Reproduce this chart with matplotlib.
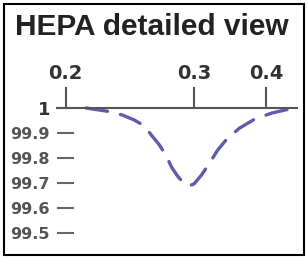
import numpy as np
import matplotlib
matplotlib.use("Agg")
import matplotlib.pyplot as plt
from matplotlib.patches import Rectangle

# values
particle_size = [0.2159, 0.2261, 0.2363, 0.2441, 0.2535, 0.2614, 0.2668, 0.2731,
                 0.2786, 0.2825, 0.2872, 0.2919, 0.2958, 0.3001, 0.3107, 0.3219,
                 0.3331, 0.3470, 0.3637, 0.3847, 0.4084, 0.4265, 0.4432]
efficiency = [100.0, 99.992, 99.984, 99.972, 99.952, 99.928, 99.892, 99.852,
              99.808, 99.764, 99.728, 99.700, 99.688, 99.696, 99.732, 99.780,
              99.832, 99.880, 99.920, 99.956, 99.980, 99.992, 100.0]
x_ticks = [0.2, 0.3, 0.4]
x_tick_labels = ["0.2", "0.3", "0.4"]
y_ticks = [99.5, 99.6, 99.7, 99.8, 99.9, 100.0]
y_tick_labels = ["99.5", "99.6", "99.7", "99.8", "99.9", "1"]

# the x axis is squeezed above 0.3 in the original
k = 0.562


def fwd(x):
    x = np.asarray(x, dtype=float)
    return np.where(x <= 0.3, x, 0.3 + (x - 0.3) * k)


def inv(y):
    y = np.asarray(y, dtype=float)
    return np.where(y <= 0.3, y, 0.3 + (y - 0.3) / k)


W, H = 308, 259
fig = plt.figure(figsize=(W / 100, H / 100), dpi=100)
ax = fig.add_axes([57 / W, 1 - 245.5 / H, 240 / W, 137.5 / H])

ax.plot(particle_size, efficiency, color="#5f5cad", lw=2.4,
        dashes=(6.5, 4.0), dash_capstyle="round", clip_on=False)

ax.set_xscale("function", functions=(fwd, inv))
ax.set_xlim(0.1932, 0.4432)
ax.set_ylim(99.45, 100.0)

ax.xaxis.tick_top()
ax.set_xticks(x_ticks)
ax.set_xticklabels(x_tick_labels, fontfamily="DejaVu Sans", fontweight="bold",
                   fontsize=14, color="#333333")
ax.xaxis.set_minor_locator(matplotlib.ticker.NullLocator())
ax.tick_params(axis="x", direction="out", length=15, width=1.5,
               color="#555555", pad=3)

ax.set_yticks(y_ticks)
ax.set_yticklabels(y_tick_labels, fontfamily="DejaVu Sans", fontweight="bold",
                   fontsize=11.5, color="#555555")
ax.get_yticklabels()[-1].set_fontsize(13)
ax.get_yticklabels()[-1].set_color("#333333")
ax.tick_params(axis="y", direction="in", length=12, width=1.5,
               color="#666666", pad=5)

for side in ["left", "right", "bottom"]:
    ax.spines[side].set_visible(False)
ax.spines["top"].set_color("#555555")
ax.spines["top"].set_linewidth(1.5)

fig.text(15 / W, 1 - 35 / H, "HEPA detailed view", fontfamily="Liberation Sans",
         fontweight="bold", fontsize=21.5, color="#222222", va="baseline")

fig.patches.append(Rectangle((4 / W, 1 - 255 / H), 300 / W, 251 / H,
                             transform=fig.transFigure, fill=False,
                             edgecolor="black", lw=1.5))

fig.savefig("out.png", dpi=100)
